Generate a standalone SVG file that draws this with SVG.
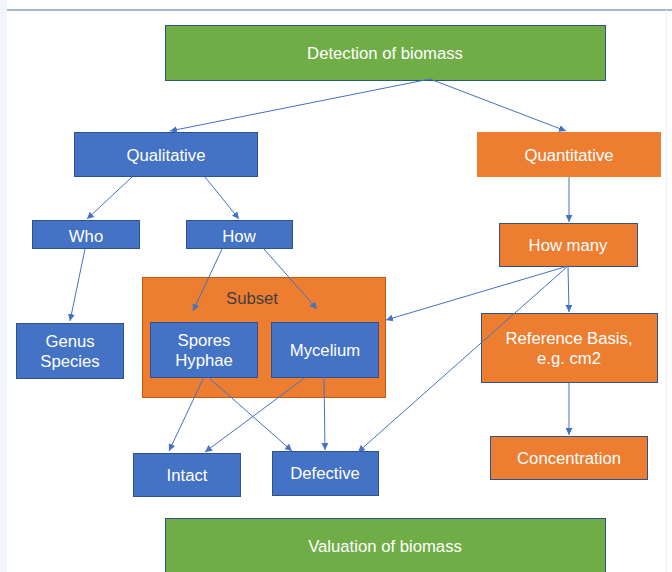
<svg xmlns="http://www.w3.org/2000/svg" width="672" height="572" viewBox="0 0 672 572">
<defs>
<style>
.bg{fill:#ffffff}
.green{fill:#70ad47;stroke:#2f528f;stroke-width:1}
.blue{fill:#4472c4;stroke:#2f528f;stroke-width:1}
.orange{fill:#ed7d31;stroke:#ed7d31;stroke-width:1}
.orangeb{fill:#ed7d31;stroke:#2f528f;stroke-width:1}
.subset{fill:#ed7d31;stroke:#c55a11;stroke-width:1}
text{font-family:"Liberation Sans",Arial,sans-serif;font-size:16.7px;fill:#ffffff;text-anchor:middle}
.dark{fill:#404040}
.conn line{stroke:#4472c4;stroke-width:1;fill:none;marker-end:url(#arr)}
</style>
<marker id="arr" viewBox="0 0 10 10" refX="10" refY="5" markerWidth="7" markerHeight="7" markerUnits="userSpaceOnUse" orient="auto">
<path d="M0,0 L10,5 L0,10 z" fill="#4472c4"/>
</marker>
</defs>
<rect class="bg" x="0" y="0" width="672" height="572"/>
<rect x="0" y="0" width="7" height="572" fill="#f2f5f9"/>
<line x1="7" y1="10" x2="672" y2="10" stroke="#4a6fa5" stroke-width="1"/>
<line x1="666.5" y1="10" x2="666.5" y2="572" stroke="#eceff3" stroke-width="1"/>

<g id="detection"><rect class="green" x="165.5" y="25.5" width="440" height="55"/><text x="385" y="59">Detection of biomass</text></g>
<g id="qualitative"><rect class="blue" x="74.5" y="132.5" width="183" height="44"/><text x="166" y="161">Qualitative</text></g>
<g id="quantitative"><rect class="orange" x="477.5" y="132.5" width="183" height="44"/><text x="569" y="161">Quantitative</text></g>
<g id="who"><rect class="blue" x="32.5" y="220.5" width="107" height="28"/><text x="86" y="242">Who</text></g>
<g id="how"><rect class="blue" x="186.5" y="220.5" width="106" height="28"/><text x="239" y="242">How</text></g>
<g id="howmany"><rect class="orangeb" x="499.5" y="223.5" width="138" height="43"/><text x="568" y="251">How many</text></g>
<g id="subset"><rect class="subset" x="142.5" y="277.5" width="243" height="120"/><text class="dark" x="252" y="304">Subset</text></g>
<g id="spores"><rect class="blue" x="150.5" y="322.5" width="107" height="55"/><text x="204" y="346">Spores</text><text x="204" y="366">Hyphae</text></g>
<g id="mycelium"><rect class="blue" x="271.5" y="322.5" width="107" height="55"/><text x="325" y="356">Mycelium</text></g>
<g id="genus"><rect class="blue" x="16.5" y="323.5" width="107" height="55"/><text x="70" y="347">Genus</text><text x="70" y="367">Species</text></g>
<g id="reference"><rect class="orangeb" x="481.5" y="313.5" width="176" height="69"/><text x="569" y="344">Reference Basis,</text><text x="569" y="364">e.g. cm2</text></g>
<g id="concentration"><rect class="orangeb" x="490.5" y="436.5" width="157" height="43"/><text x="569" y="464">Concentration</text></g>
<g id="intact"><rect class="blue" x="133.5" y="453.5" width="107" height="43"/><text x="187" y="481">Intact</text></g>
<g id="defective"><rect class="blue" x="272.5" y="451.5" width="106" height="44"/><text x="325" y="479">Defective</text></g>
<g id="valuation"><rect class="green" x="165.5" y="518.5" width="440" height="60"/><text x="385" y="552">Valuation of biomass</text></g>

<g class="conn">
<line x1="430" y1="79" x2="170" y2="131"/>
<line x1="430" y1="79" x2="566" y2="131"/>
<line x1="132" y1="177" x2="87" y2="219"/>
<line x1="205" y1="177" x2="239" y2="219"/>
<line x1="85" y1="249" x2="70" y2="321"/>
<line x1="222" y1="249" x2="193" y2="311"/>
<line x1="264" y1="249" x2="317" y2="309"/>
<line x1="569" y1="177" x2="569" y2="222"/>
<line x1="568" y1="266" x2="386" y2="320"/>
<line x1="568" y1="266" x2="358" y2="452"/>
<line x1="568" y1="266" x2="569" y2="312"/>
<line x1="569" y1="383" x2="569" y2="435"/>
<line x1="204" y1="377" x2="169" y2="451"/>
<line x1="208" y1="377" x2="292" y2="451"/>
<line x1="306" y1="377" x2="205" y2="452"/>
<line x1="324" y1="377" x2="325" y2="450"/>
</g>
</svg>
